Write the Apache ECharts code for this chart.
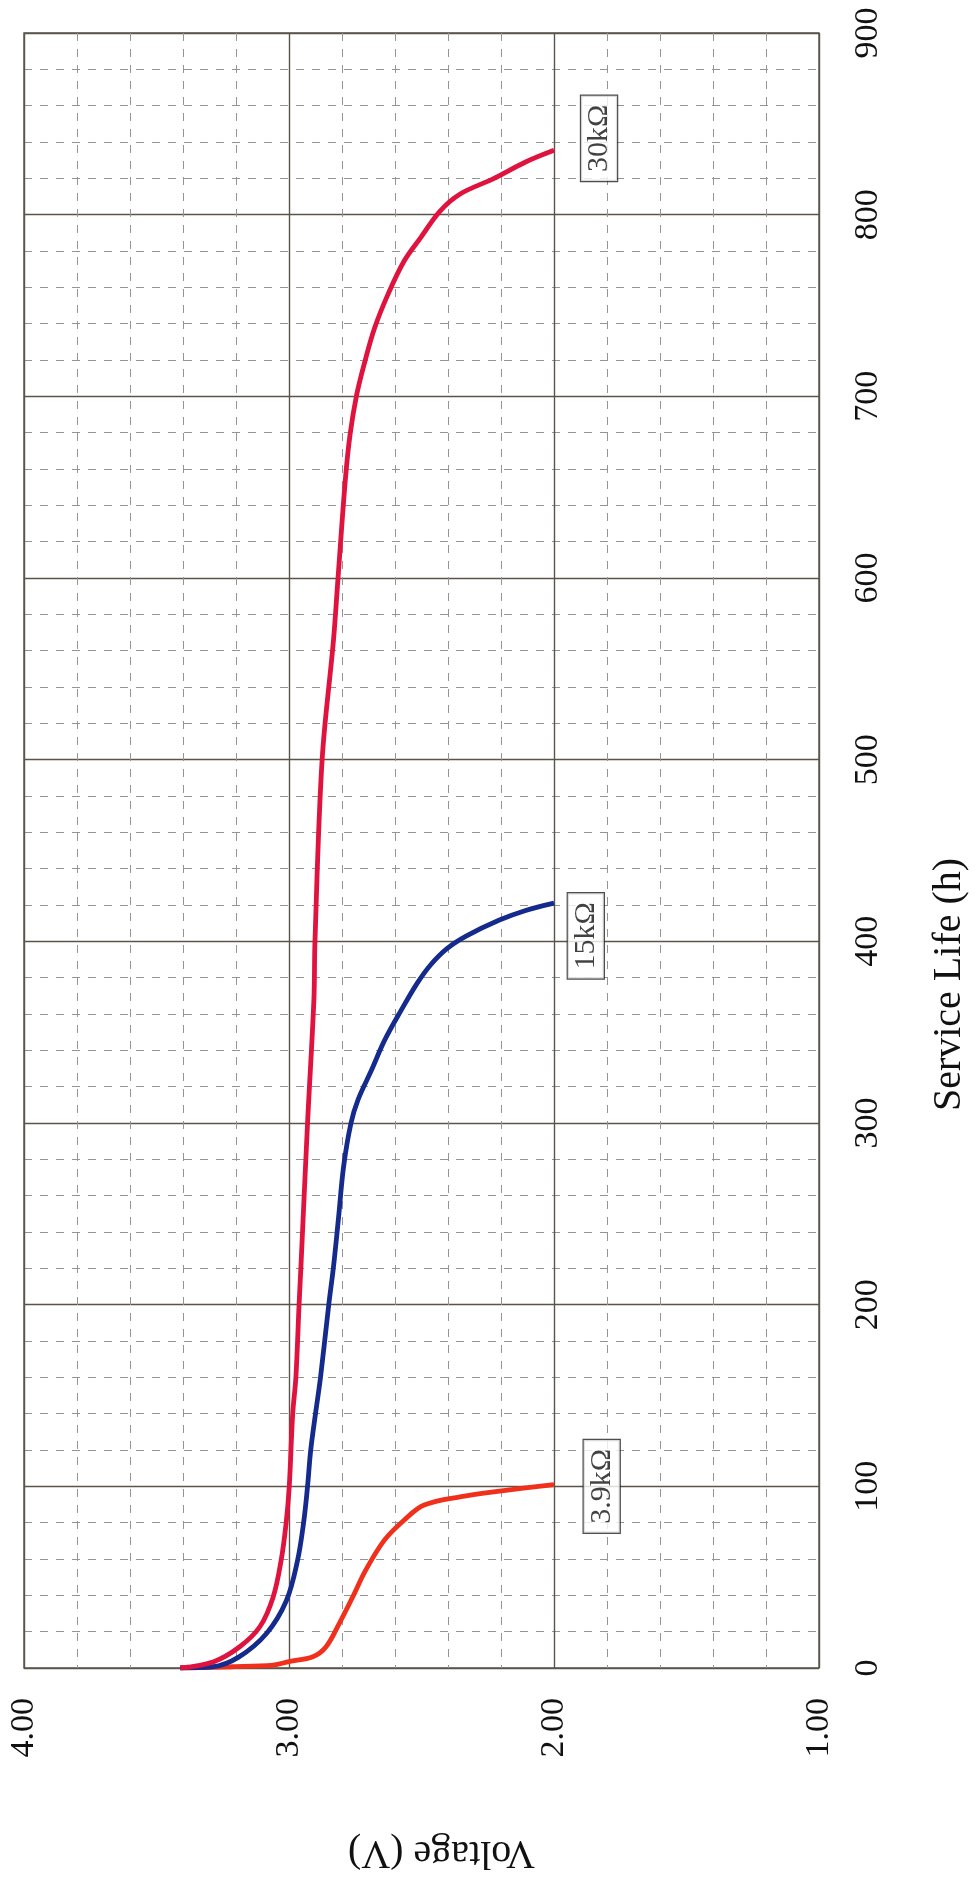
<!DOCTYPE html>
<html>
<head>
<meta charset="utf-8">
<script src="https://cdn.jsdelivr.net/npm/echarts@6/dist/echarts.min.js"></script>
<style>
html,body{margin:0;padding:0;background:#fff;}
#chart{width:977px;height:1883px;}
</style>
</head>
<body>
<div id="chart"></div>
<script>
// ---- data: [voltage (V), service life (h)] ----
const seriesNames = ['3.9kΩ', '15kΩ', '30kΩ'];
const curve39k = [[3.41,0],[3.22,0.7],[3.06,1.6],[3.00,3.5],[2.91,6.2],[2.86,11.7],[2.81,24.6],[2.76,39],[2.71,54],[2.64,70.4],[2.565,81.5],[2.49,89.7],[2.35,94.3],[2.19,97.6],[2.0,101]];
const curve15k = [[3.41,0],[3.29,0.6],[3.19,6],[3.085,19],[3.01,37],[2.968,59],[2.944,81],[2.93,100],[2.918,120],[2.90,140],[2.881,160],[2.85,200],[2.832,221],[2.813,248],[2.794,276],[2.766,300],[2.739,313],[2.689,329],[2.639,345.6],[2.577,362],[2.516,377],[2.466,387],[2.404,396],[2.33,403],[2.206,411.7],[2.107,417],[2.0,421]];
const curve30k = [[3.41,0],[3.284,3.5],[3.186,11.7],[3.11,22.7],[3.06,39],[3.03,59],[3.011,79.6],[2.999,100],[2.986,140],[2.974,160],[2.962,200],[2.955,221],[2.93,300],[2.906,368],[2.902,400],[2.875,500],[2.832,566],[2.815,600],[2.788,653],[2.77,678.5],[2.745,700.6],[2.714,719],[2.677,737.6],[2.627,756],[2.565,774.6],[2.503,787.4],[2.43,802],[2.354,811.4],[2.23,819.7],[2.107,829],[2.0,835.4]];
const labelAnchors = [[1.82,100],[1.88,403],[1.83,842]];
const voltageTicks = [1, 2, 3, 4];
const hourTicks = [0,100,200,300,400,500,600,700,800,900];

const colors = ['#f0301a', '#142a8c', '#e0123e'];
const curves = [curve39k, curve15k, curve30k];
const FONT = '"Liberation Serif", "Times New Roman", serif';

const chart = echarts.init(document.getElementById('chart'), null, {renderer: 'canvas'});
const majorLine = {show: true, lineStyle: {color: '#5a544a', width: 1.4}};
const minorLine = {show: true, lineStyle: {color: '#969490', width: 1, type: [8, 8]}};

const option = {
  backgroundColor: '#ffffff',
  animation: false,
  grid: {left: 24, right: 146, top: 33, bottom: 215, show: true, borderColor: '#5a544a', borderWidth: 1.4, backgroundColor: 'transparent'},
  xAxis: {
    type: 'value', min: voltageTicks[0], max: voltageTicks[voltageTicks.length-1], interval: 1, inverse: true, position: 'bottom',
    axisLine: {show: false}, axisTick: {show: false},
    minorTick: {show: false, splitNumber: 5},
    splitLine: majorLine, minorSplitLine: minorLine,
    axisLabel: {rotate: 90, margin: 30, fontFamily: FONT, fontSize: 34, color: '#111', formatter: v => v.toFixed(2)},
    name: 'Voltage (V)', nameLocation: 'middle', nameRotate: 180, nameGap: 164,
    nameTextStyle: {fontFamily: FONT, fontSize: 40, color: '#111', padding: [0, 40, 0, 0]}
  },
  yAxis: {
    type: 'value', min: hourTicks[0], max: hourTicks[hourTicks.length-1], interval: 100, position: 'right',
    axisLine: {show: false}, axisTick: {show: false},
    minorTick: {show: false, splitNumber: 5},
    splitLine: majorLine, minorSplitLine: minorLine,
    axisLabel: {rotate: 90, margin: 32, fontFamily: FONT, fontSize: 34, color: '#111'},
    name: 'Service Life (h)', nameLocation: 'middle', nameRotate: 90, nameGap: 110,
    nameTextStyle: {fontFamily: FONT, fontSize: 40, color: '#111', padding: [0, 268, 0, 0]}
  },
  series: curves.map((c, i) => ({
    name: seriesNames[i], type: 'line', data: c, smooth: 0.35, showSymbol: false, symbol: 'none',
    lineStyle: {color: colors[i], width: 4.8}, z: 3
  })).concat([{
    type: 'scatter', silent: true, symbolSize: 0, z: 5,
    data: labelAnchors.map((p, i) => ({value: p, name: seriesNames[i]})),
    label: {show: true, position: 'inside', rotate: 90, formatter: p => p.name,
      fontFamily: FONT, fontSize: 30, color: '#111', backgroundColor: '#fff',
      borderColor: '#222', borderWidth: 1.2, padding: [3, 9, 3, 9]}
  }])
};
chart.setOption(option);
</script>
</body>
</html>
